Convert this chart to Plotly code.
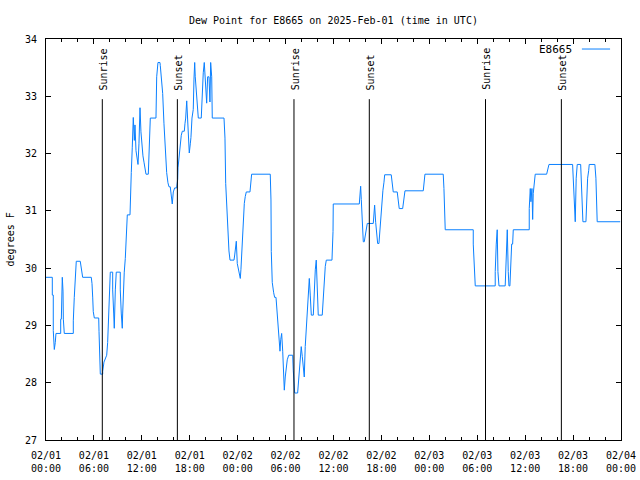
import pandas as pd
import plotly.graph_objects as go

# ---- data ----
start = "2025-02-01 00:00"
hours = [
    0.0, 0.79, 0.79, 0.91, 0.91, 1.04, 1.16, 1.25, 1.84, 1.84, 1.92, 2.04, 2.13, 2.17, 2.29,
    3.42, 3.42, 3.54, 3.67, 3.79, 4.29, 4.38, 4.51, 4.59, 5.67, 5.76, 5.85, 5.92, 6.05,
    6.60, 6.64, 6.72, 6.80, 7.10, 7.10, 7.26, 7.47, 7.60, 7.72, 7.80, 7.93, 8.05, 8.35,
    8.35, 8.48, 8.55, 8.68, 8.80, 9.30, 9.30, 9.43, 9.55, 9.60, 9.68, 9.80, 9.93, 10.05,
    10.18, 10.52, 10.55, 10.68, 10.80, 10.93, 11.06, 11.14, 11.27, 11.39, 11.52, 11.64,
    11.77, 11.89, 12.02, 12.14, 12.27, 12.39, 12.52, 12.81, 12.90, 12.98, 13.02, 13.06,
    13.77, 13.81, 13.86, 14.02, 14.27, 14.31, 14.44, 14.61, 14.77, 14.94, 15.11, 15.27,
    15.40, 15.56, 15.65, 15.81, 15.94, 16.11, 16.36, 16.49, 16.53, 16.65, 16.78, 16.94,
    17.07, 17.32, 17.40, 17.49, 17.62, 17.74, 17.87, 17.94, 18.07, 18.15, 18.28, 18.44,
    18.53, 18.62, 18.69, 18.82, 18.94, 19.07, 19.44, 19.57, 19.69, 19.82, 19.94, 20.03,
    20.12, 20.24, 20.41, 20.53, 20.62, 20.75, 20.82, 22.29, 22.41, 22.50, 22.66, 22.82,
    22.91, 23.04, 23.54, 23.63, 23.75, 23.83, 23.95, 24.08, 24.20, 24.33, 24.41, 24.50,
    24.63, 24.70, 24.83, 24.95, 25.08, 25.54, 25.63, 25.75, 28.08, 28.17, 28.21, 28.33,
    28.51, 28.63, 28.80, 28.92, 29.08, 29.21, 29.30, 29.39, 29.51, 29.64, 29.76, 29.84,
    29.96, 30.09, 30.21, 30.39, 30.89, 30.96, 31.05, 31.14, 31.51, 31.59, 31.71, 31.84,
    31.96, 32.09, 32.26, 32.34, 32.46, 32.59, 32.72, 32.84, 32.97, 33.09, 33.22, 33.47,
    33.59, 33.72, 33.84, 33.97, 34.09, 34.59, 34.72, 34.85, 34.97, 35.10, 35.81, 35.94,
    35.97, 39.23, 39.31, 39.40, 39.48, 39.60, 39.73, 39.85, 39.98, 40.10, 40.23, 40.98,
    41.07, 41.15, 41.28, 41.40, 41.53, 41.69, 41.78, 41.86, 41.94, 42.07, 42.19, 42.32,
    42.41, 43.23, 43.36, 43.48, 43.98, 44.11, 44.23, 44.66, 44.78, 44.95, 47.24, 47.36,
    47.45, 49.74, 49.83, 49.99, 53.50, 53.50, 53.62, 53.75, 56.25, 56.25, 56.38, 56.50,
    56.59, 56.72, 57.50, 57.59, 57.68, 57.76, 57.88, 57.97, 58.09, 58.18, 58.31, 58.43,
    58.51, 60.51, 60.51, 60.64, 60.72, 60.85, 60.94, 61.01, 61.14, 61.26, 62.69, 62.81,
    62.98, 65.94, 66.02, 66.14, 66.27, 66.39, 66.52, 66.95, 67.02, 67.15, 67.23, 67.61,
    67.70, 67.82, 67.95, 68.02, 68.73, 68.86, 69.02, 71.90,
]
dewpoint = [
    29.84, 29.84, 29.53, 29.53, 28.91, 28.58, 28.70, 28.86, 28.86, 29.11, 29.11, 29.84, 29.60, 29.11, 28.86,
    28.86, 29.08, 29.49, 29.91, 30.12, 30.12, 30.05, 29.91, 29.84, 29.84, 29.73, 29.48, 29.24, 29.13,
    29.13, 28.89, 28.40, 28.15, 28.15, 28.20, 28.36, 28.43, 28.48, 28.70, 28.99, 29.62, 29.93, 29.93,
    29.62, 29.20, 28.95, 29.62, 29.93, 29.93, 29.62, 29.20, 28.95, 29.20, 29.62, 29.93, 30.17, 30.67,
    30.93, 30.93, 31.17, 31.67, 32.10, 32.63, 32.23, 32.50, 32.05, 31.87, 31.81, 32.17,
    32.80, 32.38, 32.10, 31.96, 31.85, 31.72, 31.64, 31.64, 31.90, 32.17, 32.43, 32.62,
    32.62, 32.86, 33.34, 33.59, 33.59, 33.54, 33.34, 33.05, 32.53, 32.08, 31.67, 31.49,
    31.42, 31.42, 31.33, 31.12, 31.33, 31.40, 31.40, 31.55, 31.75, 31.93, 32.15, 32.32,
    32.39, 32.39, 32.52, 32.62, 32.92, 32.62, 32.17, 32.01, 32.17, 32.28, 32.62, 32.77,
    33.30, 33.59, 33.34, 33.10, 32.90, 32.62, 32.62, 33.10, 33.41, 33.59, 33.34, 33.10,
    32.88, 33.34, 33.34, 32.90, 33.59, 33.34, 32.62, 32.62, 32.27, 31.48, 30.96, 30.67,
    30.30, 30.14, 30.14, 30.23, 30.38, 30.47, 30.08, 29.98, 29.90, 29.82, 29.98, 30.29,
    30.58, 30.67, 31.13, 31.25, 31.33, 31.33, 31.48, 31.64, 31.64, 31.19, 30.29, 29.75,
    29.57, 29.49, 29.49, 29.27, 29.00, 28.70, 28.55, 28.75, 28.86, 28.55, 28.13, 27.87,
    28.10, 28.28, 28.40, 28.48, 28.48, 28.22, 27.99, 27.82, 27.82, 27.97, 28.28, 28.48,
    28.63, 28.46, 28.28, 28.10, 28.63, 28.98, 29.30, 29.55, 29.82, 29.53, 29.18, 29.18,
    29.64, 29.97, 30.14, 29.73, 29.18, 29.18, 29.53, 29.78, 30.03, 30.14, 30.14, 30.64,
    31.12, 31.12, 31.28, 31.43, 31.20, 30.72, 30.46, 30.46, 30.60, 30.72, 30.78, 30.78,
    31.01, 31.10, 30.80, 30.60, 30.43, 30.43, 30.60, 30.85, 30.90, 31.13, 31.36, 31.50,
    31.63, 31.63, 31.50, 31.33, 31.33, 31.19, 31.04, 31.04, 31.19, 31.35, 31.35, 31.50,
    31.64, 31.64, 31.39, 30.67, 30.67, 30.42, 29.94, 29.69, 29.69, 29.94, 30.42, 30.67,
    29.94, 29.69, 29.69, 29.94, 30.42, 30.67, 29.94, 29.69, 29.69, 29.94, 30.42, 30.42,
    30.67, 30.67, 31.04, 31.39, 31.16, 31.39, 30.85, 31.30, 31.47, 31.64, 31.64, 31.71,
    31.81, 31.81, 31.57, 31.20, 30.81, 31.57, 31.81, 31.81, 31.57, 31.20, 30.81, 30.81,
    31.20, 31.57, 31.70, 31.81, 31.81, 31.57, 30.81, 30.81,
]
sun_event_times = ["2025-02-01 07:03", "2025-02-01 16:27", "2025-02-02 07:03",
                   "2025-02-02 16:29", "2025-02-03 07:02", "2025-02-03 16:32"]
sun_event_labels = ["Sunrise", "Sunset", "Sunrise", "Sunset", "Sunrise", "Sunset"]
tick_times = ["2025-02-01 00:00", "2025-02-01 06:00", "2025-02-01 12:00", "2025-02-01 18:00",
              "2025-02-02 00:00", "2025-02-02 06:00", "2025-02-02 12:00", "2025-02-02 18:00",
              "2025-02-03 00:00", "2025-02-03 06:00", "2025-02-03 12:00", "2025-02-03 18:00",
              "2025-02-04 00:00"]
tick_labels = ["02/01<br>00:00", "02/01<br>06:00", "02/01<br>12:00", "02/01<br>18:00",
               "02/02<br>00:00", "02/02<br>06:00", "02/02<br>12:00", "02/02<br>18:00",
               "02/03<br>00:00", "02/03<br>06:00", "02/03<br>12:00", "02/03<br>18:00",
               "02/04<br>00:00"]
station = "E8665"

times = pd.Timestamp(start) + pd.to_timedelta(hours, unit="h")

FONT = "DejaVu Sans Mono"
LINE_COLOR = "#0a80ff"

fig = go.Figure()
fig.add_trace(go.Scatter(x=times, y=dewpoint, mode="lines", name=station,
                         line=dict(color=LINE_COLOR, width=1), showlegend=False))

y_min, y_max = 27, 34
line_top = 32.95
label_base = 33.07
for t, lab in zip(sun_event_times, sun_event_labels):
    fig.add_shape(type="line", x0=t, x1=t, y0=y_min, y1=line_top, xref="x", yref="y",
                  line=dict(color="black", width=1))
    fig.add_annotation(x=t, y=label_base, xref="x", yref="y", text=lab, textangle=-90,
                       showarrow=False, xanchor="center", yanchor="bottom", xshift=1,
                       font=dict(family=FONT, size=10, color="black"))

# legend (text on the left, sample line on the right, as in gnuplot)
fig.add_annotation(x=0.9185, y=0.975, xref="paper", yref="paper", text=station,
                   showarrow=False, xanchor="right", yanchor="middle",
                   font=dict(family=FONT, size=11, color="black"))
fig.add_shape(type="line", x0=0.932, x1=0.981, y0=0.975, y1=0.975, xref="paper", yref="paper",
              line=dict(color=LINE_COLOR, width=1))

# y label
fig.add_annotation(x=-0.061, y=0.5, xref="paper", yref="paper", text="degrees F",
                   textangle=-90, showarrow=False, xanchor="center", yanchor="middle",
                   font=dict(family=FONT, size=10, color="black"))

fig.update_layout(
    width=640, height=480,
    margin=dict(l=46, r=19, t=39, b=40, pad=0, autoexpand=False),
    paper_bgcolor="white", plot_bgcolor="white",
    title=dict(text="Dew Point for E8665 on 2025-Feb-01 (time in UTC)", x=0.521, xanchor="center",
               y=1 - 20 / 480, yanchor="middle", font=dict(family=FONT, size=10, color="black")),
    showlegend=False,
)
fig.update_xaxes(
    type="date", range=[tick_times[0], tick_times[-1]], automargin=False,
    tickmode="array", tickvals=tick_times, ticktext=tick_labels,
    ticks="inside", ticklen=5, tickcolor="black", tickwidth=1,
    minor=dict(ticks="inside", ticklen=3, dtick=2 * 3600 * 1000, tick0=tick_times[0],
               tickcolor="black", showgrid=False),
    showline=True, linecolor="black", linewidth=1, mirror="ticks",
    showgrid=False, zeroline=False,
    tickfont=dict(family=FONT, size=10, color="black"), ticklabelstandoff=6,
)
fig.update_yaxes(
    range=[y_min, y_max], tick0=27, dtick=1, automargin=False,
    ticks="inside", ticklen=5, tickcolor="black", tickwidth=1,
    showline=True, linecolor="black", linewidth=1, mirror="ticks",
    showgrid=False, zeroline=False,
    tickfont=dict(family=FONT, size=10, color="black"), ticklabelstandoff=6,
)

fig.write_html("out.html")
